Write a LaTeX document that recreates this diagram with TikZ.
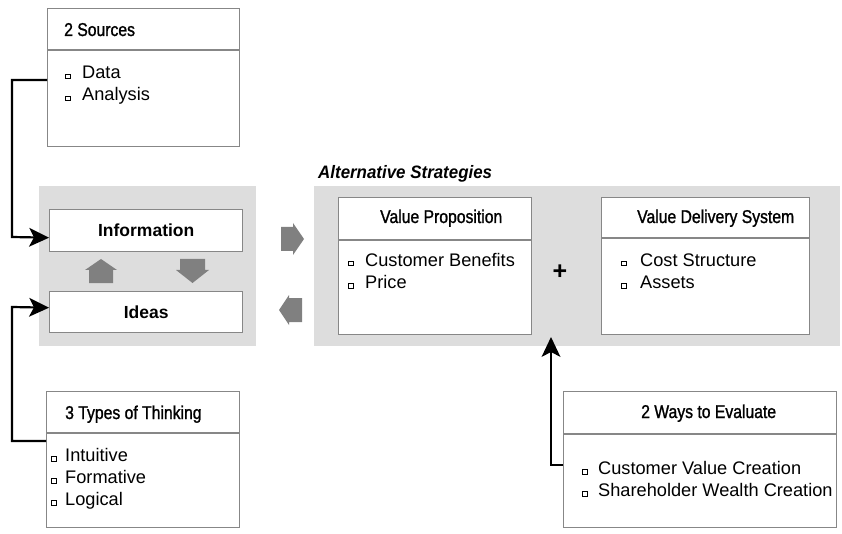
\documentclass[tikz,border=0pt]{standalone}
\usepackage{fontspec}
\setmainfont{Liberation Sans}
\newfontfamily\titlefam[FakeStretch=0.85,FakeBold=1.2]{Liberation Sans}
\newfontfamily\altfam[FakeStretch=0.94]{Liberation Sans}
\usetikzlibrary{arrows.meta}
\definecolor{panelgray}{RGB}{221,221,221}
\definecolor{boxgray}{RGB}{135,135,135}
\definecolor{arrowgray}{RGB}{128,128,128}
\newcommand{\bul}{{\setlength{\fboxsep}{0pt}\setlength{\fboxrule}{0.8pt}\fbox{\rule{0pt}{4pt}\hspace{4pt}}}}
\newcommand{\bitem}[2]{\makebox[#1][l]{\raisebox{0.5pt}{\bul}}#2}
\begin{document}
\begin{tikzpicture}[x=1pt,y=-1pt,
  panel/.style={fill=panelgray,draw=none},
  box/.style={draw=boxgray,line width=1.4pt,fill=white,anchor=north west,inner sep=0},
  divider/.style={draw=boxgray,line width=1.4pt},
  blk/.style={fill=arrowgray,draw=none},
  conn/.style={line width=2.2pt,-{Stealth[length=20pt,width=19pt,inset=5pt,line width=0pt]}},
  ttl/.style={font=\titlefam\fontsize{18.5}{20}\selectfont,anchor=base west,inner sep=0},
  itm/.style={font=\fontsize{18.2}{22}\selectfont,anchor=base west,inner sep=0},
  bold/.style={font=\bfseries\fontsize{17.5}{22}\selectfont,inner sep=0}]
\useasboundingbox (0,0) rectangle (842,534);
\fill[white] (0,0) rectangle (842,534);

% panels
\node[panel,anchor=north west,minimum width=217,minimum height=160,inner sep=0] (lp) at (39,186) {};
\node[panel,anchor=north west,minimum width=526,minimum height=160,inner sep=0] (rp) at (314,186) {};

% boxes
\node[box,minimum width=192,minimum height=138] (src) at (47,8) {};
\draw[divider] (src.west |- 0,50) -- (src.east |- 0,50);
\node[box,minimum width=193,minimum height=42] (info) at (49,209) {};
\node[bold] at (info.center) {Information};
\node[box,minimum width=193,minimum height=41] (ideas) at (49,291) {};
\node[bold] at (ideas.center) {Ideas};
\node[box,minimum width=193,minimum height=137] (vp) at (338,197) {};
\draw[divider] (vp.west |- 0,240) -- (vp.east |- 0,240);
\node[box,minimum width=208,minimum height=137] (vd) at (601,197) {};
\draw[divider] (vd.west |- 0,238) -- (vd.east |- 0,238);
\node[box,minimum width=193,minimum height=136] (tw) at (46,391) {};
\draw[divider] (tw.west |- 0,433) -- (tw.east |- 0,433);
\node[box,minimum width=273,minimum height=136] (ev) at (563,391) {};
\draw[divider] (ev.west |- 0,434) -- (ev.east |- 0,434);

% titles
\node[ttl] (t1) at (64,36) {2 Sources};
\node[ttl] (t2) at (380,223) {Value Proposition};
\node[ttl] (t3) at (637,223) {Value Delivery System};
\node[ttl] (t4) at (65,419) {3 Types of Thinking};
\node[ttl] (t5) at (641,418) {2 Ways to Evaluate};
\node[anchor=base west,inner sep=0,font=\altfam\bfseries\itshape\fontsize{18}{20}\selectfont] (alt) at (318,179) {Alternative Strategies};
\node[inner sep=0,font=\bfseries\fontsize{25}{26}\selectfont] (plus) at (560,272) {+};

% items
\node[itm] (i1) at (65,79) {\bitem{17pt}{Data}};
\node[itm] (i2) at (65,101) {\bitem{17pt}{Analysis}};
\node[itm] (i3) at (348,266) {\bitem{17pt}{Customer Benefits}};
\node[itm] (i4) at (348,288) {\bitem{17pt}{Price}};
\node[itm] (i5) at (621,266) {\bitem{19pt}{Cost Structure}};
\node[itm] (i6) at (621,288) {\bitem{19pt}{Assets}};
\node[itm] (i7) at (51,461) {\bitem{14pt}{Intuitive}};
\node[itm] (i8) at (51,483) {\bitem{14pt}{Formative}};
\node[itm] (i9) at (51,505) {\bitem{14pt}{Logical}};
\node[itm] (i10) at (582,474) {\bitem{16pt}{Customer Value Creation}};
\node[itm] (i11) at (582,496) {\bitem{16pt}{Shareholder Wealth Creation}};

% block arrows
\fill[blk] (89,283) -- (89,270) -- (85,270) -- (101,259) -- (117,270) -- (113,270) -- (113,283) -- cycle;
\fill[blk] (180,259) -- (205,259) -- (205,270) -- (209,270) -- (192.5,283) -- (176,270) -- (180,270) -- cycle;
\fill[blk] (281,227) -- (293,227) -- (293,223) -- (304,239) -- (293,255) -- (293,251) -- (281,251) -- cycle;
\fill[blk] (302,298) -- (289,298) -- (289,295) -- (279,310) -- (289,325) -- (289,322) -- (302,322) -- cycle;

% connectors
\coordinate (evtip) at (551,337);
\draw[conn] (src.west |- 0,80) -| (12,237) -- ([yshift=-7pt]info.west);
\draw[conn] (tw.west |- 0,441) -| (12,307) -- ([yshift=4.5pt]ideas.west);
\draw[conn] (ev.west |- 0,465) -| (evtip);
\end{tikzpicture}
\end{document}
